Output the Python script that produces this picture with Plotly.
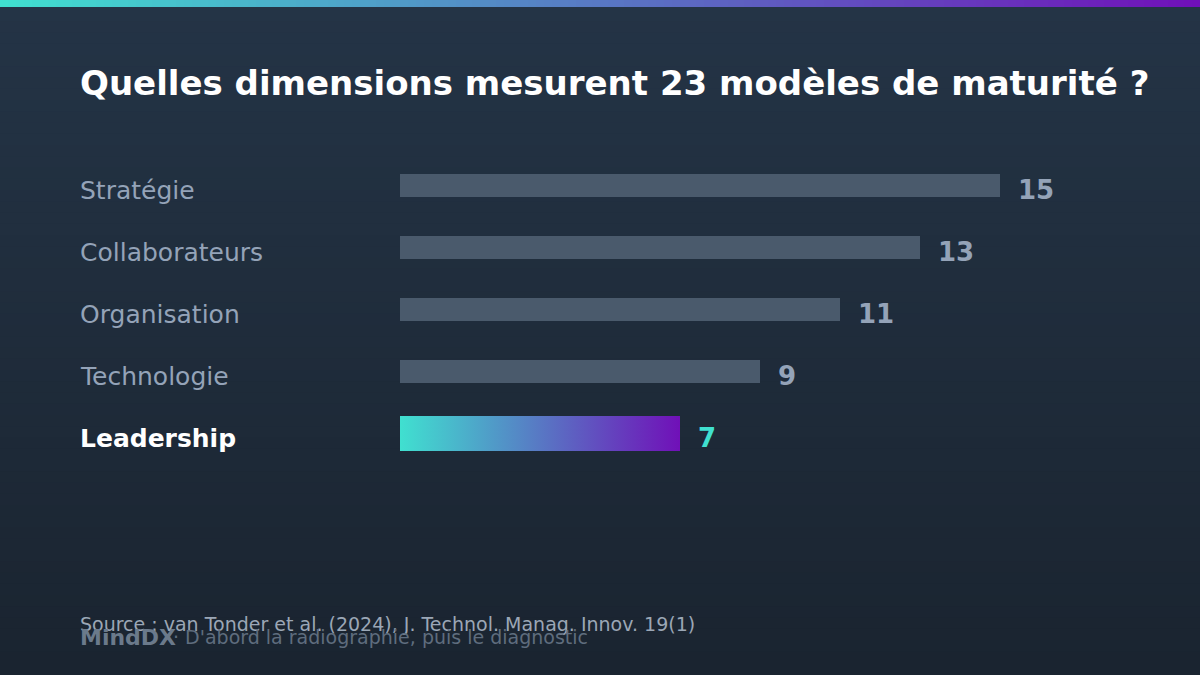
import plotly.graph_objects as go

# data
categories = ["Stratégie", "Collaborateurs", "Organisation", "Technologie", "Leadership"]
counts = [15, 13, 11, 9, 7]
highlight = "Leadership"

title = "Quelles dimensions mesurent 23 modèles de maturité ?"
source = "Source : van Tonder et al. (2024), J. Technol. Manag. Innov. 19(1)"
brand = "MindDX"
tagline = "· D'abord la radiographie, puis le diagnostic"

W, H = 1200, 675
FONT = "DejaVu Sans"
GRAD = [[0, "#40e0d0"], [1, "#7010b8"]]


def mix(c1, c2, t):
    a = [int(c1[i:i + 2], 16) for i in (1, 3, 5)]
    b = [int(c2[i:i + 2], 16) for i in (1, 3, 5)]
    return "rgb(%d,%d,%d)" % tuple(round(a[k] + (b[k] - a[k]) * t) for k in range(3))


fig = go.Figure()

# plain bars
plain = [(c, v) for c, v in zip(categories, counts) if c != highlight]
fig.add_trace(go.Bar(
    x=[v for c, v in plain], y=[categories.index(c) for c, v in plain],
    orientation="h", width=0.37, marker_color="#4a5a6c",
    marker_line_width=0, hoverinfo="skip", showlegend=False))

# highlighted bar with gradient fill
hi = categories.index(highlight)
hv = counts[hi]
hw = 0.565 / 2
fig.add_trace(go.Scatter(
    x=[0, hv, hv, 0, 0], y=[hi - hw, hi - hw, hi + hw, hi + hw, hi - hw],
    mode="lines", line_width=0, fill="toself",
    fillgradient=dict(type="horizontal", colorscale=GRAD),
    hoverinfo="skip", showlegend=False))

# category and value labels (text sits a bit below the bar centre)
for i, (c, v) in enumerate(zip(categories, counts)):
    is_hi = c == highlight
    fig.add_annotation(
        x=-8, y=i, xref="x", yref="y", text=f"<b>{c}</b>" if is_hi else c,
        showarrow=False, xanchor="left", yanchor="middle", xshift=-2, yshift=-4.5,
        font=dict(family=FONT, size=25, color="#ffffff" if is_hi else "#94a3b8"))
    fig.add_annotation(
        x=v + 0.42, y=i, xref="x", yref="y", text=f"<b>{v}</b>",
        showarrow=False, xanchor="left", yanchor="middle", xshift=-1, yshift=-4.5,
        font=dict(family=FONT, size=26, color="#40e0d0" if is_hi else "#94a3b8"))

shapes = []
# background gradient
n = 60
for k in range(n):
    shapes.append(dict(type="rect", xref="paper", yref="paper", layer="below",
                       x0=0, x1=1, y0=1 - (k + 1) / n, y1=1 - k / n + 0.002,
                       fillcolor=mix("#243446", "#1a2430", k / (n - 1)), line_width=0))
# top gradient stripe
m = 150
for k in range(m):
    shapes.append(dict(type="rect", xref="paper", yref="paper", layer="above",
                       x0=k / m, x1=(k + 1) / m + 0.001, y0=1 - 7 / H, y1=1,
                       fillcolor=mix("#40e0d0", "#7010b8", k / (m - 1)), line_width=0))

fig.add_annotation(x=80 / W, y=1 - 83.5 / H, xref="paper", yref="paper", text=f"<b>{title}</b>",
                   showarrow=False, xanchor="left", yanchor="middle", xshift=-2,
                   font=dict(family=FONT, size=34, color="#ffffff"))
fig.add_annotation(x=80 / W, y=1 - 624 / H, xref="paper", yref="paper", text=source,
                   showarrow=False, xanchor="left", yanchor="middle", xshift=-2,
                   font=dict(family=FONT, size=19, color="#9ba7b6"))
fig.add_annotation(x=80 / W, y=1 - 637 / H, xref="paper", yref="paper", text=f"<b>{brand}</b>",
                   showarrow=False, xanchor="left", yanchor="middle", xshift=-2,
                   font=dict(family=FONT, size=22, color="#6b7a8b"))
fig.add_annotation(x=173 / W, y=1 - 637 / H, xref="paper", yref="paper", text=tagline,
                   showarrow=False, xanchor="left", yanchor="middle", xshift=-2,
                   font=dict(family=FONT, size=19, color="#5f6d7e"))

fig.update_layout(
    width=W, height=H, margin=dict(l=0, r=0, t=0, b=0),
    paper_bgcolor="#1e2a38", plot_bgcolor="rgba(0,0,0,0)",
    shapes=shapes, bargap=0,
    xaxis=dict(range=[-10, 20], visible=False, fixedrange=True),
    yaxis=dict(range=[(H - 185.5) / 62, -185.5 / 62], visible=False, fixedrange=True),
)

fig.write_html("out.html", config={"displayModeBar": False},
               post_script="document.body.style.margin='0';")
